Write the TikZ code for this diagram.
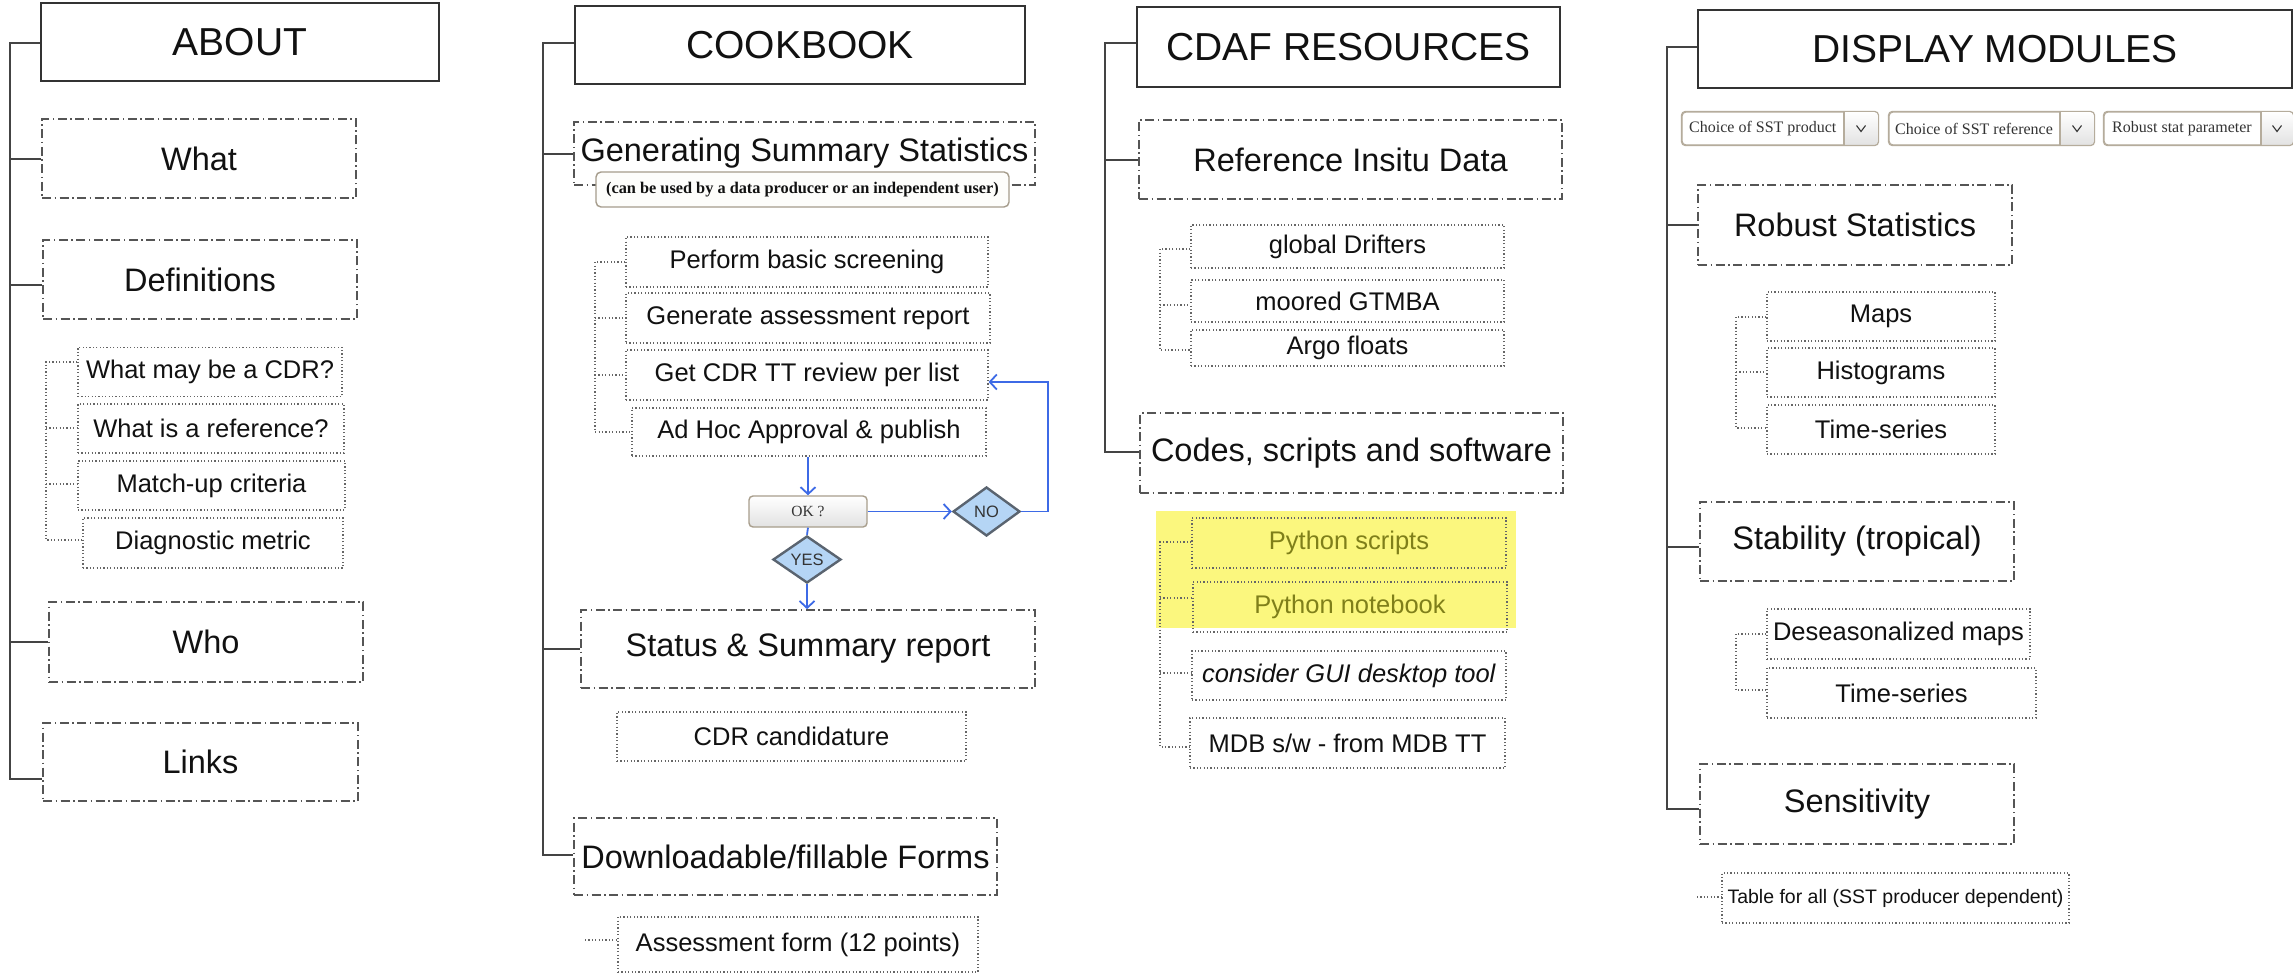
\documentclass[tikz,border=0pt]{standalone}
\usepackage{fontspec}
\setmainfont{Liberation Sans}
\newfontfamily\tms{Liberation Serif}
\usetikzlibrary{shapes.geometric,arrows.meta}
\definecolor{hdrc}{HTML}{333333}
\definecolor{ltwo}{HTML}{555555}
\definecolor{lthree}{HTML}{666666}
\definecolor{trc}{HTML}{444444}
\definecolor{flowblue}{HTML}{3D6AE6}
\definecolor{diafill}{HTML}{B5D5F5}
\definecolor{diadraw}{HTML}{5A6470}
\definecolor{diatext}{HTML}{333333}
\definecolor{okdraw}{HTML}{A89E8C}
\definecolor{okbot}{HTML}{E2E2E2}
\definecolor{hl}{HTML}{FBF77E}
\definecolor{hltext}{HTML}{7F7F1A}
\definecolor{txt}{HTML}{111111}
\definecolor{dddraw}{HTML}{B5AC9C}
\definecolor{ddbot}{HTML}{E2E2E2}
\definecolor{ddtxt}{HTML}{333333}
\definecolor{subdraw}{HTML}{A59C8C}
\definecolor{subfill}{HTML}{FDFDFB}
\begin{document}
\begin{tikzpicture}[x=1pt,y=-1pt,
  hdr/.style={draw=hdrc, line width=1.8pt, inner sep=0pt, text=txt, font=\fontsize{39}{44}\selectfont},
  lvtwo/.style={draw=ltwo, line width=1.6pt, dash pattern=on 9pt off 3.5pt on 1.5pt off 3.5pt, inner sep=0pt, text=txt, font=\fontsize{32.5}{38}\selectfont},
  lvthree/.style={draw=lthree, line width=1.1pt, dash pattern=on 1.2pt off 2.2pt, inner sep=0pt, text=txt, font=\fontsize{25.5}{30}\selectfont},
  hlitem/.style={lvthree, text=hltext},
  sz/.style 2 args={minimum width=#1pt, minimum height=#2pt},
  trunk/.style={draw=trc, line width=1.6pt},
  subtrunk/.style={draw=lthree, line width=1.1pt, dash pattern=on 1.2pt off 2.2pt},
  flow/.style={draw=flowblue, line width=1.8pt},
  flowarrow/.style={flow, -{Straight Barb[length=7pt,width=15pt]}},
  dia/.style={diamond, draw=diadraw, fill=diafill, line width=2.4pt, inner sep=0pt, aspect=1.4, text=diatext, font=\fontsize{16.5}{18}\selectfont},
  okbox/.style={draw=okdraw, line width=1.4pt, rounded corners=4pt, top color=white, bottom color=okbot, inner sep=0pt, text=diatext, font=\tms\fontsize{15.5}{17}\selectfont},
  subt/.style={draw=subdraw, fill=subfill, line width=1.4pt, rounded corners=5pt, inner sep=0pt, text=txt, font=\tms\bfseries\fontsize{16.3}{18}\selectfont},
  ddbox/.style={draw=dddraw, fill=white, line width=1.2pt, rounded corners=4pt, inner sep=0pt},
  ddline/.style={draw=dddraw, line width=1.2pt},
  ddtext/.style={inner sep=0pt, text=ddtxt, font=\tms\fontsize{16}{18}\selectfont},
  chev/.style={draw=ddtxt, line width=1.1pt},
  tabitem/.style={lvthree, font=\fontsize{19.5}{22}\selectfont}
]
\useasboundingbox (0,0) rectangle (2293,973);
\clip (0,0) rectangle (2293,973);
\fill[white] (0,0) rectangle (2293,973);

% ================= ABOUT =================
\node[hdr, sz={398}{78}] (about) at (240,42) {ABOUT};
\node[lvtwo, sz={314}{79}] (what) at (199,158.5) {What};
\node[lvtwo, sz={314}{79}] (defs) at (200,279.5) {Definitions};
\node[lvthree, sz={264}{49}] (cdr) at (210,372) {What may be a CDR?};
\node[lvthree, sz={266}{49}] (ref) at (211,428.5) {What is a reference?};
\node[lvthree, sz={267}{49}] (match) at (211.5,485.5) {Match-up criteria};
\node[lvthree, sz={260}{50}] (diag) at (213,543) {Diagnostic metric};
\node[lvtwo, sz={314}{80}] (who) at (206,642) {Who};
\node[lvtwo, sz={315}{78}] (links) at (200.5,762) {Links};

\coordinate (a0) at (10,43);
\coordinate (a1) at (10,159);
\coordinate (a2) at (10,285);
\coordinate (a3) at (10,642);
\coordinate (a4) at (10,779);
\draw[trunk] (about.west |- a0) -- (a0) -- (a4) -- (links.west |- a4);
\draw[trunk] (a1) -- (what.west |- a1);
\draw[trunk] (a2) -- (defs.west |- a2);
\draw[trunk] (a3) -- (who.west |- a3);

\coordinate (b0) at (46,362);
\coordinate (b1) at (46,428);
\coordinate (b2) at (46,484);
\coordinate (b3) at (46,540);
\draw[subtrunk] (cdr.west |- b0) -- (b0) -- (b3) -- (diag.west |- b3);
\draw[subtrunk] (b1) -- (ref.west |- b1);
\draw[subtrunk] (b2) -- (match.west |- b2);

% ================= COOKBOOK =================
\node[hdr, sz={450}{78}] (cook) at (800,45) {COOKBOOK};
\node[lvtwo, sz={461}{63}] (gss) at (804.5,153.5) {Generating Summary Statistics};
\node[subt, sz={413}{35}] (gsssub) at (802.5,189.5) {(can be used by a data producer or an independent user)};
\node[lvthree, sz={362}{50}] (perf) at (807,262) {Perform basic screening};
\node[lvthree, sz={364}{50}] (gen) at (808,318) {Generate assessment report};
\node[lvthree, sz={362}{50}] (get) at (807,375) {Get CDR TT review per list};
\node[lvthree, sz={354}{48}] (adhoc) at (809,432) {Ad Hoc Approval \& publish};
\node[okbox, sz={118}{31}] (ok) at (808,511.5) {OK ?};
\node[dia, sz={67}{49}] (no) at (986.5,511.5) {NO};
\node[dia, sz={68}{47}] (yes) at (807,559.5) {YES};
\node[lvtwo, sz={454}{78}] (status) at (808,649) {Status \& Summary report};
\node[lvthree, sz={349}{49}] (cand) at (791.5,736.5) {CDR candidature};
\node[lvtwo, sz={423}{77}] (forms) at (785.5,856.5) {Downloadable/fillable Forms};
\node[lvthree, sz={360}{55}] (assess) at (798,944.5) {Assessment form (12 points)};

\coordinate (c0) at (543,43);
\coordinate (c1) at (543,154);
\coordinate (c2) at (543,649);
\coordinate (c3) at (543,855);
\draw[trunk] (cook.west |- c0) -- (c0) -- (c3) -- (forms.west |- c3);
\draw[trunk] (c1) -- (gss.west |- c1);
\draw[trunk] (c2) -- (status.west |- c2);

\coordinate (d0) at (595,262);
\coordinate (d1) at (595,318);
\coordinate (d2) at (595,375);
\coordinate (d3) at (595,432);
\draw[subtrunk] (perf.west |- d0) -- (d0) -- (d3) -- (adhoc.west |- d3);
\draw[subtrunk] (d1) -- (gen.west |- d1);
\draw[subtrunk] (d2) -- (get.west |- d2);
\coordinate (e0) at (585,940);
\draw[subtrunk] (e0) -- (assess.west |- e0);

\draw[flowarrow] (ok.north |- adhoc.south) -- (ok.north);
\draw[flowarrow] (ok.east) -- (no.west);
\coordinate (loop) at (1048,382);
\draw[flowarrow] (no.east) -| (loop) -- (get.east |- loop);
\draw[flow] (ok.south) -- (yes.north);
\draw[flowarrow] (yes.south) -- (yes.south |- status.north);

% ================= CDAF RESOURCES =================
\fill[hl] (1156,511) rectangle (1516,628);
\node[hdr, sz={423}{80}] (cdaf) at (1348.5,47) {CDAF RESOURCES};
\node[lvtwo, sz={423}{79}] (rid) at (1350.5,159.5) {Reference Insitu Data};
\node[lvthree, sz={313}{43}] (drift) at (1347.5,246.5) {global Drifters};
\node[lvthree, sz={313}{42}] (moor) at (1347.5,301) {moored GTMBA};
\node[lvthree, sz={313}{36}] (argo) at (1347.5,348) {Argo floats};
\node[lvtwo, sz={423}{80}] (codes) at (1351.5,453) {Codes, scripts and software};
\node[hlitem, sz={314}{50}] (pys) at (1349,543) {Python scripts};
\node[hlitem, sz={314}{50}] (pyn) at (1350,607) {Python notebook};
\node[lvthree, sz={314}{49}] (gui) at (1349,675.5) {\textit{consider GUI desktop tool}};
\node[lvthree, sz={315}{50}] (mdb) at (1347.5,743) {MDB s/w - from MDB TT};

\coordinate (f0) at (1105,43);
\coordinate (f1) at (1105,160);
\coordinate (f2) at (1105,452);
\draw[trunk] (cdaf.west |- f0) -- (f0) -- (f2) -- (codes.west |- f2);
\draw[trunk] (f1) -- (rid.west |- f1);

\coordinate (g0) at (1160,249);
\coordinate (g1) at (1160,305);
\coordinate (g2) at (1160,350);
\draw[subtrunk] (drift.west |- g0) -- (g0) -- (g2) -- (argo.west |- g2);
\draw[subtrunk] (g1) -- (moor.west |- g1);

\coordinate (h0) at (1160,542);
\coordinate (h1) at (1160,598);
\coordinate (h2) at (1160,673);
\coordinate (h3) at (1160,747);
\draw[subtrunk] (pys.west |- h0) -- (h0) -- (h3) -- (mdb.west |- h3);
\draw[subtrunk] (h1) -- (pyn.west |- h1);
\draw[subtrunk] (h2) -- (gui.west |- h2);

% ================= DISPLAY MODULES =================
\node[hdr, sz={594}{78}] (disp) at (1995,49) {DISPLAY MODULES};

% dropdowns
\node[ddbox, sz={196}{33}] (dd1) at (1780,128.5) {};
\node[ddbox, sz={205}{33}] (dd2) at (1991.5,128.5) {};
\node[ddbox, sz={189}{33}] (dd3) at (2198.5,128.5) {};
\begin{scope}
\clip[rounded corners=4pt] (dd1.south west) rectangle (dd1.north east);
\fill[top color=white, bottom color=ddbot] (1844,112) rectangle (1878,145);
\end{scope}
\begin{scope}
\clip[rounded corners=4pt] (dd2.south west) rectangle (dd2.north east);
\fill[top color=white, bottom color=ddbot] (2060,112) rectangle (2094,145);
\end{scope}
\begin{scope}
\clip[rounded corners=4pt] (dd3.south west) rectangle (dd3.north east);
\fill[top color=white, bottom color=ddbot] (2261,112) rectangle (2293,145);
\end{scope}
\draw[ddline, rounded corners=4pt] (dd1.south west) rectangle (dd1.north east);
\draw[ddline, rounded corners=4pt] (dd2.south west) rectangle (dd2.north east);
\draw[ddline, rounded corners=4pt] (dd3.south west) rectangle (dd3.north east);
\draw[ddline] (1844,112) -- (1844,145);
\draw[ddline] (2060,112) -- (2060,145);
\draw[ddline] (2261,112) -- (2261,145);
\node[ddtext, anchor=west] (dd1t) at (1689,128.5) {Choice of SST product};
\node[ddtext, anchor=west] (dd2t) at (1895,128.5) {Choice of SST reference};
\node[ddtext, anchor=west] (dd3t) at (2112,128.5) {Robust stat parameter};
\draw[chev] (1856.5,125.5) -- (1861,131.5) -- (1865.5,125.5);
\draw[chev] (2072.5,125.5) -- (2077,131.5) -- (2081.5,125.5);
\draw[chev] (2272.5,125.5) -- (2277,131.5) -- (2281.5,125.5);

\node[lvtwo, sz={314}{80}] (robust) at (1855,225) {Robust Statistics};
\node[lvthree, sz={228}{49}] (maps) at (1881,316.5) {Maps};
\node[lvthree, sz={228}{49}] (hist) at (1881,372.5) {Histograms};
\node[lvthree, sz={228}{49}] (tsa) at (1881,429.5) {Time-series};
\node[lvtwo, sz={314}{79}] (stab) at (1857,541.5) {Stability (tropical)};
\node[lvthree, sz={263}{50}] (des) at (1898.5,634) {Deseasonalized maps};
\node[lvthree, sz={269}{50}] (tsb) at (1901.5,693) {Time-series};
\node[lvtwo, sz={314}{80}] (sens) at (1857,804) {Sensitivity};
\node[tabitem, sz={347}{50}] (table) at (1895.5,898) {Table for all (SST producer dependent)};

\coordinate (k0) at (1667,47);
\coordinate (k1) at (1667,225);
\coordinate (k2) at (1667,547);
\coordinate (k3) at (1667,809);
\draw[trunk] (disp.west |- k0) -- (k0) -- (k3) -- (sens.west |- k3);
\draw[trunk] (k1) -- (robust.west |- k1);
\draw[trunk] (k2) -- (stab.west |- k2);

\coordinate (m0) at (1736,317);
\coordinate (m1) at (1736,372);
\coordinate (m2) at (1736,428);
\draw[subtrunk] (maps.west |- m0) -- (m0) -- (m2) -- (tsa.west |- m2);
\draw[subtrunk] (m1) -- (hist.west |- m1);

\coordinate (n0) at (1736,634);
\coordinate (n1) at (1736,690);
\draw[subtrunk] (des.west |- n0) -- (n0) -- (n1) -- (tsb.west |- n1);

\coordinate (p0) at (1697,897);
\draw[subtrunk] (p0) -- (table.west |- p0);
\end{tikzpicture}
\end{document}
